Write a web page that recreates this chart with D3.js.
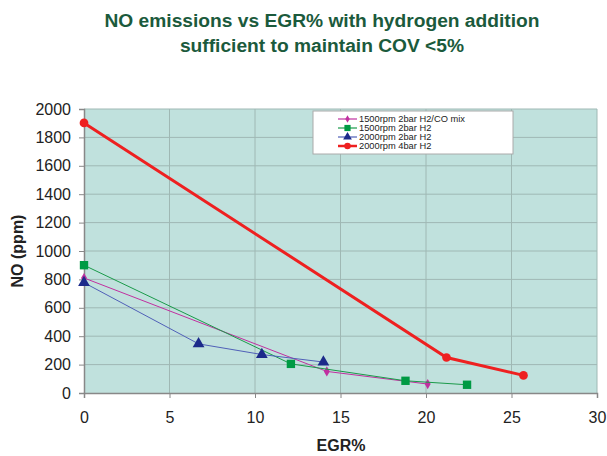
<!DOCTYPE html>
<html><head><meta charset="utf-8">
<script src="https://cdn.jsdelivr.net/npm/d3@7"></script>
<style>body{margin:0;background:#fff}svg{display:block}</style>
</head><body>
<svg id="c" width="607" height="456"></svg>
<script>
const xTicks = [0,5,10,15,20,25,30];
const yTicks = [0,200,400,600,800,1000,1200,1400,1600,1800,2000];
const seriesNames = ["1500rpm 2bar H2/CO mix","1500rpm 2bar H2","2000rpm 2bar H2","2000rpm 4bar H2"];
const mixEGR = [0,14.2,20.1];
const mixNO = [810,152,63];
const h2EGR = [0,12.1,18.8,22.4];
const h2NO = [900,205,86,58];
const h2b2EGR = [0,6.7,10.4,14.0];
const h2b2NO = [777,346,271,218];
const h4EGR = [0,21.2,25.7];
const h4NO = [1902,250,124];

const svg = d3.select("#c");
const L=84,R=597,T=109,B=393;
const x = d3.scaleLinear().domain([0,30]).range([L,R]);
const y = d3.scaleLinear().domain([0,2000]).range([B,T]);

svg.append("rect").attr("x",L).attr("y",T).attr("width",R-L).attr("height",B-T).attr("fill","#c0e1dd");
// grid
svg.append("g").selectAll("line").data(yTicks.slice(1)).join("line")
  .attr("x1",L).attr("x2",R).attr("y1",d=>y(d)).attr("y2",d=>y(d)).attr("stroke","#9fb8b4").attr("stroke-width",1);
svg.append("g").selectAll("line").data(xTicks.slice(1)).join("line")
  .attr("y1",T).attr("y2",B).attr("x1",d=>x(d)).attr("x2",d=>x(d)).attr("stroke","#9fb8b4").attr("stroke-width",1);

const font = "Arial, 'Liberation Sans', sans-serif";
const yAxis = svg.append("g").attr("transform",`translate(${L},0)`).call(d3.axisLeft(y).tickValues(yTicks).tickFormat(d3.format("d")).tickSize(5).tickPadding(8));
const xAxis = svg.append("g").attr("transform",`translate(0,${B})`).call(d3.axisBottom(x).tickValues(xTicks).tickFormat(d3.format("d")).tickSize(5).tickPadding(14));
[yAxis,xAxis].forEach(a=>{
  a.select(".domain").attr("stroke","#888").attr("stroke-width",1.5);
  a.selectAll(".tick line").attr("stroke","#888");
  a.selectAll("text").attr("font-family",font).attr("font-size",16).attr("fill","#222");
});

const series = [
  {name:seriesNames[0], xs:mixEGR, ys:mixNO, color:"#c030a0", lw:1, shape:"diamond", size:30},
  {name:seriesNames[1], xs:h2EGR, ys:h2NO, color:"#1a9a4a", lw:1, shape:"square", size:70, fill:"#009a44"},
  {name:seriesNames[2], xs:h2b2EGR, ys:h2b2NO, color:"#5060b8", lw:1, shape:"triangle", size:60, fill:"#1c2a8a"},
  {name:seriesNames[3], xs:h4EGR, ys:h4NO, color:"#ee2020", lw:3, shape:"circle", size:60, fill:"#ee2020"}
];
const sym = {diamond:d3.symbolDiamond, square:d3.symbolSquare, triangle:d3.symbolTriangle, circle:d3.symbolCircle};
const line = d3.line().x(d=>x(d[0])).y(d=>y(d[1]));
series.forEach(s=>{
  const pts = s.xs.map((v,i)=>[v,s.ys[i]]);
  svg.append("path").datum(pts).attr("d",line).attr("fill","none").attr("stroke",s.color).attr("stroke-width",s.lw);
  svg.append("g").selectAll("path").data(pts).join("path")
    .attr("transform",d=>`translate(${x(d[0])},${y(d[1])})`)
    .attr("d",d3.symbol(sym[s.shape],s.size)).attr("fill",s.fill||s.color);
});

// legend
const lg = svg.append("g");
lg.append("rect").attr("x",313).attr("y",111).attr("width",200).attr("height",43).attr("fill","#fff").attr("stroke","#aaa");
series.forEach((s,i)=>{
  const yy = 119+i*9;
  lg.append("line").attr("x1",338).attr("x2",357).attr("y1",yy).attr("y2",yy).attr("stroke",s.color).attr("stroke-width",s.lw===3?2.5:1.2);
  lg.append("path").attr("transform",`translate(347.5,${yy})`).attr("d",d3.symbol(sym[s.shape],s.size*0.55)).attr("fill",s.fill||s.color);
  lg.append("text").attr("x",359).attr("y",yy+3.3).attr("font-family",font).attr("font-size",9.3).attr("fill","#222").text(s.name);
});

// titles
const tc="#1b5a3c";
svg.append("text").attr("x",322).attr("y",27).attr("text-anchor","middle").attr("font-family",font).attr("font-weight","bold").attr("font-size",19.2).attr("fill",tc).text("NO emissions vs EGR% with hydrogen addition");
svg.append("text").attr("x",322).attr("y",52).attr("text-anchor","middle").attr("font-family",font).attr("font-weight","bold").attr("font-size",19.2).attr("fill",tc).text("sufficient to maintain COV <5%");
svg.append("text").attr("transform","translate(23,251) rotate(-90)").attr("text-anchor","middle").attr("font-family",font).attr("font-weight","bold").attr("font-size",16).attr("fill","#222").text("NO (ppm)");
svg.append("text").attr("x",341).attr("y",451).attr("text-anchor","middle").attr("font-family",font).attr("font-weight","bold").attr("font-size",16).attr("fill","#222").text("EGR%");
</script>
</body></html>
